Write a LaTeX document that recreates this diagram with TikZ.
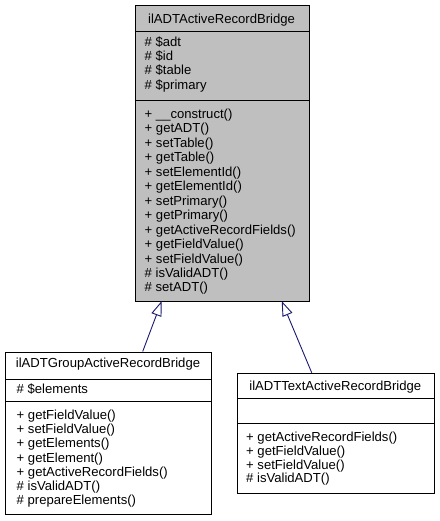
\documentclass[tikz,border=0pt]{standalone}
\usepackage{fontspec}
\setmainfont{Liberation Sans}
\usetikzlibrary{arrows.meta}
\definecolor{boxgray}{RGB}{191,191,191}
\definecolor{edgeblue}{RGB}{25,25,112}
\tikzset{
  classbox/.style={draw=black, line width=0.9pt, inner sep=0pt, anchor=north west},
  sepline/.style={draw=black, line width=0.9pt},
  title/.style={inner sep=0pt, anchor=base, font=\fontsize{13.1}{14}\selectfont},
  member/.style={inner sep=0pt, anchor=base west, font=\fontsize{13.1}{14}\selectfont},
  inherit/.style={draw=edgeblue, line width=0.9pt, -{Triangle[open, length=15pt, width=10.5pt, fill=white]}},
}
\begin{document}
\begin{tikzpicture}[x=1pt,y=-1pt]
\useasboundingbox[fill=white] (0,0) rectangle (439,521);

% ---- base class
\node[classbox, fill=boxgray, minimum width=174pt, minimum height=296pt] (base) at (134.5,5) {};
\draw[sepline] (134.5,31) -- (308.5,31);
\draw[sepline] (134.5,100) -- (308.5,100);
\node[title] (basetitle) at (221.5,23.5) {ilADTActiveRecordBridge};
\node[member] (ba1) at (144.5,46.2) {\# \$adt};
\node[member] (ba2) at (144.5,60.6) {\# \$id};
\node[member] (ba3) at (144.5,75.0) {\# \$table};
\node[member] (ba4) at (144.5,89.4) {\# \$primary};
\node[member] (bm1) at (144.5,118.5) {+ \_\_construct()};
\node[member] (bm2) at (144.5,132.95) {+ getADT()};
\node[member] (bm3) at (144.5,147.4) {+ setTable()};
\node[member] (bm4) at (144.5,161.85) {+ getTable()};
\node[member] (bm5) at (144.5,176.3) {+ setElementId()};
\node[member] (bm6) at (144.5,190.75) {+ getElementId()};
\node[member] (bm7) at (144.5,205.2) {+ setPrimary()};
\node[member] (bm8) at (144.5,219.65) {+ getPrimary()};
\node[member] (bm9) at (144.5,234.1) {+ getActiveRecordFields()};
\node[member] (bm10) at (144.5,248.55) {+ getFieldValue()};
\node[member] (bm11) at (144.5,263.0) {+ setFieldValue()};
\node[member] (bm12) at (144.5,277.45) {\# isValidADT()};
\node[member] (bm13) at (144.5,291.9) {\# setADT()};

% ---- group class
\node[classbox, fill=white, minimum width=206pt, minimum height=162pt] (grp) at (5,352) {};
\draw[sepline] (5,379) -- (211,379);
\draw[sepline] (5,401) -- (211,401);
\node[title] (grptitle) at (108,367.5) {ilADTGroupActiveRecordBridge};
\node[member] (ga1) at (16.5,393.5) {\# \$elements};
\node[member] (gm1) at (16.5,419.5) {+ getFieldValue()};
\node[member] (gm2) at (16.5,433.7) {+ setFieldValue()};
\node[member] (gm3) at (16.5,447.9) {+ getElements()};
\node[member] (gm4) at (16.5,462.1) {+ getElement()};
\node[member] (gm5) at (16.5,476.3) {+ getActiveRecordFields()};
\node[member] (gm6) at (16.5,490.5) {\# isValidADT()};
\node[member] (gm7) at (16.5,504.7) {\# prepareElements()};

% ---- text class
\node[classbox, fill=white, minimum width=196.5pt, minimum height=120pt] (txt) at (237,373) {};
\draw[sepline] (237,398) -- (433.5,398);
\draw[sepline] (237,423) -- (433.5,423);
\node[title] (txttitle) at (335.25,390) {ilADTTextActiveRecordBridge};
\node[member] (tm1) at (246,441.2) {+ getActiveRecordFields()};
\node[member] (tm2) at (246,455.1) {+ getFieldValue()};
\node[member] (tm3) at (246,469.0) {+ setFieldValue()};
\node[member] (tm4) at (246,482.9) {\# isValidADT()};

% ---- inheritance
\coordinate (gtop) at (142.7,351.5);
\coordinate (ttop) at (311.7,372.7);
\coordinate (tip1) at (161.7,301);
\coordinate (tip2) at (281.7,301);
\draw[inherit] (gtop) -- (tip1);
\draw[inherit] (ttop) -- (tip2);
\end{tikzpicture}
\end{document}
